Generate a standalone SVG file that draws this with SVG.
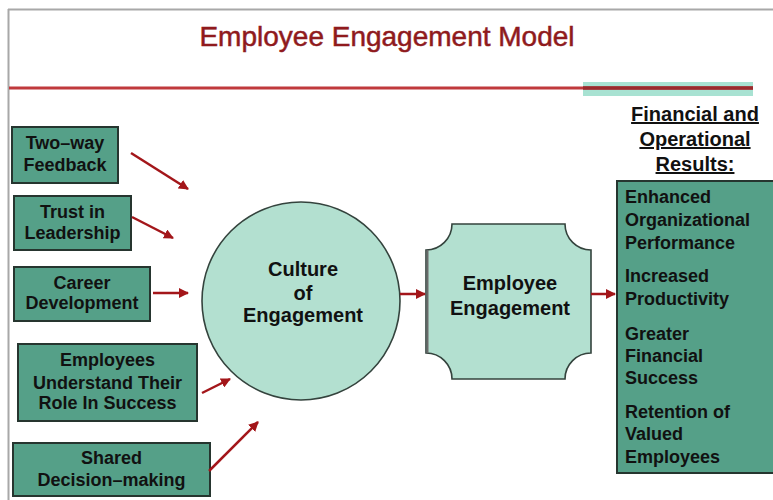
<svg xmlns="http://www.w3.org/2000/svg" width="773" height="500" viewBox="0 0 773 500">
<defs>
<style>
.box{fill:#55a088;stroke:#26352f;stroke-width:2}
.lt{fill:#b3e0d0;stroke:#34433d;stroke-width:1.6}
.t{font-family:"Liberation Sans",Arial,sans-serif;font-weight:bold;font-size:18px;fill:#111;text-anchor:middle}
.tl{font-family:"Liberation Sans",Arial,sans-serif;font-weight:bold;font-size:18px;fill:#111}
.big{font-size:20px}
.arr{stroke:#a3161a;stroke-width:2.5;fill:none;marker-end:url(#ah)}
</style>
<marker id="ah" viewBox="0 0 10 10" refX="9" refY="5" markerWidth="4" markerHeight="4" orient="auto" markerUnits="strokeWidth">
<path d="M0,0 L10,5 L0,10 z" fill="#a3161a"/>
</marker>
</defs>
<rect width="773" height="500" fill="#ffffff"/>
<g id="frame">
<line x1="8" y1="9.5" x2="773" y2="9.5" stroke="#a8a8a8" stroke-width="2"/>
<line x1="8.5" y1="9" x2="8.5" y2="500" stroke="#a8a8a8" stroke-width="2"/>
<rect x="583" y="82" width="170" height="14" fill="#a8e2d2"/>
<line x1="9" y1="88" x2="753" y2="88" stroke="#c0393c" stroke-width="3"/>
<line x1="583" y1="88" x2="753" y2="88" stroke="#9a2a2c" stroke-width="3.5"/>
</g>
<g id="title">
<text x="387" y="46" font-family="'Liberation Sans',Arial,sans-serif" font-size="28" fill="#8f1a1d" stroke="#8f1a1d" stroke-width="0.5" text-anchor="middle">Employee Engagement Model</text>
</g>
<g id="n1">
<rect class="box" x="12" y="127" width="106" height="56"/>
<text class="t" x="65" y="149">Two–way</text>
<text class="t" x="65" y="171">Feedback</text>
</g>
<g id="n2">
<rect class="box" x="14" y="196" width="117" height="54"/>
<text class="t" x="72.5" y="218">Trust in</text>
<text class="t" x="72.5" y="239">Leadership</text>
</g>
<g id="n3">
<rect class="box" x="14" y="267" width="136" height="54"/>
<text class="t" x="82" y="289">Career</text>
<text class="t" x="82" y="309">Development</text>
</g>
<g id="n4">
<rect class="box" x="18" y="344" width="179" height="77"/>
<text class="t" x="107.5" y="366">Employees</text>
<text class="t" x="107.5" y="389">Understand Their</text>
<text class="t" x="107.5" y="409">Role In Success</text>
</g>
<g id="n5">
<rect class="box" x="13" y="443" width="197" height="53"/>
<text class="t" x="111.5" y="464">Shared</text>
<text class="t" x="111.5" y="486">Decision–making</text>
</g>
<g id="culture">
<circle class="lt" cx="301" cy="301" r="99"/>
<text class="t big" x="303" y="276">Culture</text>
<text class="t big" x="303" y="300">of</text>
<text class="t big" x="303" y="322">Engagement</text>
</g>
<g id="engagement">
<path class="lt" d="M452 224 L565 224 A26 26 0 0 0 591 250 L591 353 A26 26 0 0 0 565 379 L452 379 A26 26 0 0 0 426 353 L426 250 A26 26 0 0 0 452 224 Z"/>
<line x1="427.5" y1="250" x2="427.5" y2="353" stroke="#6a6a6a" stroke-width="2"/>
<text class="t big" x="510" y="290">Employee</text>
<text class="t big" x="510" y="315">Engagement</text>
</g>
<g id="results-header">
<text class="t big" x="695" y="121" text-decoration="underline">Financial and</text>
<text class="t big" x="695" y="146" text-decoration="underline">Operational</text>
<text class="t big" x="695" y="171" text-decoration="underline">Results:</text>
</g>
<g id="results">
<rect class="box" x="617" y="181" width="170" height="292"/>
<text class="tl" x="625" y="203">Enhanced</text>
<text class="tl" x="625" y="226">Organizational</text>
<text class="tl" x="625" y="249">Performance</text>
<text class="tl" x="625" y="282">Increased</text>
<text class="tl" x="625" y="305">Productivity</text>
<text class="tl" x="625" y="340">Greater</text>
<text class="tl" x="625" y="362">Financial</text>
<text class="tl" x="625" y="384">Success</text>
<text class="tl" x="625" y="418">Retention of</text>
<text class="tl" x="625" y="440">Valued</text>
<text class="tl" x="625" y="463">Employees</text>
</g>
<g id="connectors">
<line class="arr" x1="131" y1="153" x2="188" y2="189"/>
<line class="arr" x1="132" y1="217" x2="173" y2="238"/>
<line class="arr" x1="153" y1="293" x2="188" y2="293"/>
<line class="arr" x1="202" y1="393" x2="230" y2="379"/>
<line class="arr" x1="209" y1="471" x2="258" y2="422"/>
<line class="arr" x1="400" y1="294" x2="425" y2="294"/>
<line class="arr" x1="591" y1="294" x2="615" y2="294"/>
</g>
</svg>
